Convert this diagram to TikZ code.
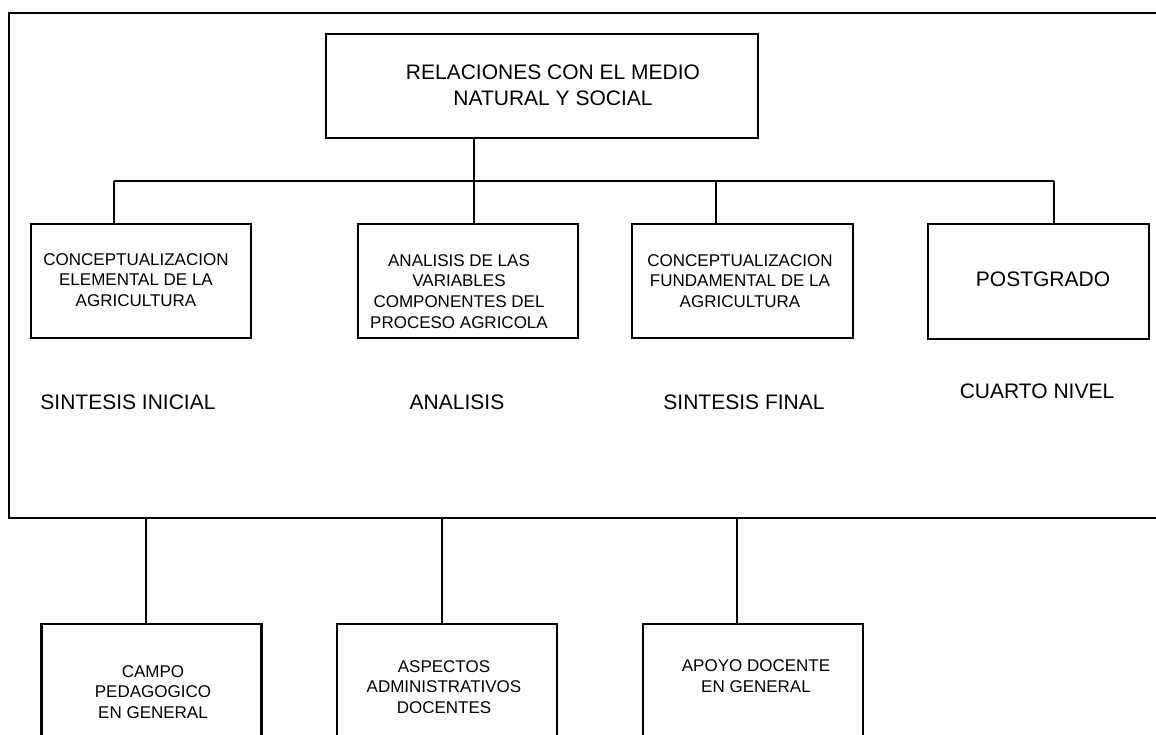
\documentclass[tikz,border=0pt]{standalone}
\usepackage{fontspec}
\setmainfont{Liberation Sans}

\begin{document}
\begin{tikzpicture}[x=1pt,y=-1pt,
    box/.style={draw,line width=2.2pt,inner sep=0pt,minimum width=220pt,minimum height=114pt},
    link/.style={line width=1.4pt},
    small/.style={align=center,inner sep=0pt,font=\fontsize{17}{20.8}\selectfont},
    big/.style={align=center,inner sep=0pt,font=\fontsize{21}{26}\selectfont}]

  \useasboundingbox (0,0) rectangle (1156,734);
  \clip (0,0) rectangle (1156,734);

  % outer frame, cut at the right
  \node[box,minimum width=1191pt,minimum height=505pt] (frame) at (604.5,265.5) {};

  \node[box,minimum width=432pt,minimum height=104pt] (rel) at (542,86) {};
  \node[big] (rel-t) at (553,85.5) {RELACIONES CON EL MEDIO\\NATURAL Y SOCIAL};

  % level 1
  \node[box] (elem) at (141,281) {};
  \node[small] (elem-t) at (136,280) {CONCEPTUALIZACION\\ELEMENTAL DE LA\\AGRICULTURA};
  \node[box] (anal) at (468,281) {};
  \node[small] (anal-t) at (459,291.5) {ANALISIS DE LAS\\VARIABLES\\COMPONENTES DEL\\PROCESO AGRICOLA};
  \node[box,minimum width=221pt] (fund) at (742.5,281) {};
  \node[small] (fund-t) at (740,281) {CONCEPTUALIZACION\\FUNDAMENTAL DE LA\\AGRICULTURA};
  \node[box,minimum width=221pt,minimum height=115pt] (post) at (1038.5,281.5) {};
  \node[big] (post-t) at (1043,279) {POSTGRADO};

  \node[big] (sint-i) at (128,402) {SINTESIS INICIAL};
  \node[big] (anls) at (457,402) {ANALISIS};
  \node[big] (sint-f) at (744,402) {SINTESIS FINAL};
  \node[big] (cuarto) at (1037,391) {CUARTO NIVEL};

  % bottom row
  \node[box,minimum height=136pt] (campo) at (151.5,692) {};
  \node[small] (campo-t) at (153,692) {CAMPO\\PEDAGOGICO\\EN GENERAL};
  \node[box,minimum height=136pt] (admin) at (447,692) {};
  \node[small] (admin-t) at (444,687) {ASPECTOS\\ADMINISTRATIVOS\\DOCENTES};
  \node[box,minimum height=136pt] (apoyo) at (753,692) {};
  \node[small] (apoyo-t) at (756,676) {APOYO DOCENTE\\EN GENERAL};

  % connectors
  \coordinate (d1) at (114,181);
  \coordinate (d2) at (474,181);
  \coordinate (d3) at (716,181);
  \coordinate (d4) at (1054,181);
  \draw[link] (rel.south -| d2) -- (d2 |- anal.north);
  \draw[link] (d1) -- (d4);
  \draw[link] (d1) -- (d1 |- elem.north);
  \draw[link] (d3) -- (d3 |- fund.north);
  \draw[link] (d4) -- (d4 |- post.north);

  \coordinate (c1) at (146,0);
  \coordinate (c2) at (442,0);
  \coordinate (c3) at (737,0);
  \draw[link] (c1 |- frame.south) -- (c1 |- campo.north);
  \draw[link] (c2 |- frame.south) -- (c2 |- admin.north);
  \draw[link] (c3 |- frame.south) -- (c3 |- apoyo.north);
\end{tikzpicture}
\end{document}
